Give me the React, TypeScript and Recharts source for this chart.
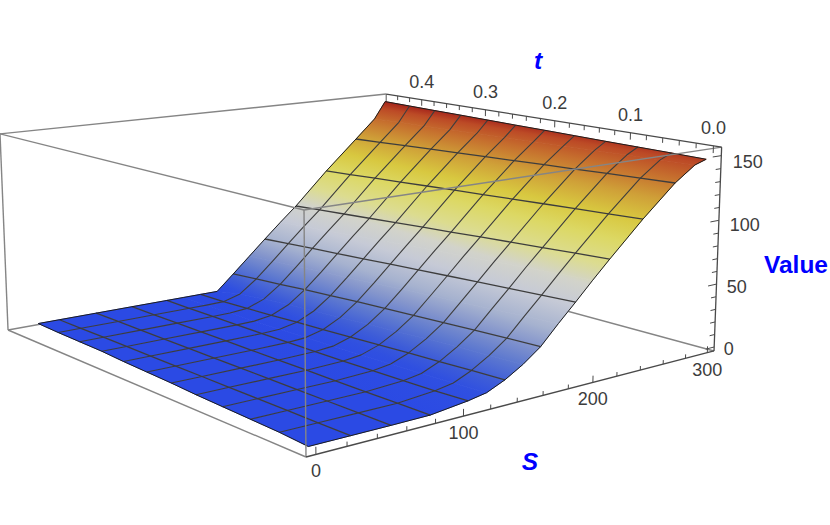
import { Scatter, ScatterChart, XAxis, YAxis } from 'recharts';

// surface samples: one list per S, one entry per t
const tValues = [0, 0.0409, 0.0818, 0.1227, 0.1636, 0.2045, 0.2455, 0.2864, 0.3273, 0.3682, 0.4091, 0.45];
const sValues = [0, 27.3, 54.5, 81.8, 109.1, 122.7, 136.4, 150, 163.6, 177.3, 190.9, 204.5, 218.2, 245.5, 272.7, 290, 300];
const meshS = [27.3, 54.5, 81.8, 109.1, 136.4, 163.6, 190.9, 218.2, 245.5, 272.7];
// the low S edge of the surface is not quite square in the picture
const lowEdgeS = [0, 2, 3, 4, 5, 6.5, 7.5, 8.5, 10, 10.5, 11, 12];

const atS0 = [0, 0, 0, 0, 0, 0, 0, 0, 0, 0, 0, 0];
const atS27 = [0, 0, 0, 0, 0, 0, 0, 0, 0, 0, 0, 0];
const atS55 = [0, 0, 0, 0, 0, 0, 0, 0, 0, 0, 0, 0];
const atS82 = [0.2, 0.1, 0, 0, 0, 0, 0, 0, 0, 0, 0, 0];
const atS109 = [3.5, 2.4, 1.7, 1.2, 0.8, 0.5, 0.3, 0.1, 0, 0, 0, 0];
const atS123 = [6, 4.8, 3.9, 3.2, 2.5, 1.8, 1.2, 0.7, 0.3, 0.1, 0, 0];
const atS136 = [12, 10.9, 9.7, 8.6, 7.3, 6.1, 4.8, 3.7, 2.4, 1.3, 0.3, 0];
const atS150 = [20, 19, 17.8, 16.5, 15, 13.4, 11.9, 10.2, 8.5, 6.6, 4.4, 0];
const atS164 = [30, 28.9, 27.6, 26.2, 24.9, 23.5, 22.2, 20.4, 18.8, 16.8, 15, 13.1];
const atS177 = [44, 42.6, 41, 39.4, 37.9, 36.2, 34.7, 33, 31.4, 29.7, 28.1, 26.5];
const atS191 = [57.2, 55.7, 54.2, 52.6, 51.1, 49.5, 48, 46.3, 44.7, 43.1, 41.4, 39.8];
const atS205 = [70.8, 69.2, 67.7, 66.1, 64.5, 62.8, 61.2, 59.6, 57.9, 56.2, 54.5, 52.8];
const atS218 = [84, 82.4, 80.7, 79.1, 77.5, 75.7, 74.1, 72.4, 70.6, 68.9, 67.1, 65.4];
const atS246 = [109.4, 108, 106.6, 105.2, 103.8, 102.3, 101, 99.5, 98, 96.5, 95, 93.5];
const atS273 = [132.6, 131.4, 130.3, 129.1, 128, 126.7, 125.6, 124.3, 123.1, 121.9, 120.6, 119.4];
const atS290 = [144, 143.3, 142.6, 141.9, 141.2, 140.4, 139.8, 139, 138.2, 137.5, 136.8, 136];
const atS300 = [147, 147.4, 147.7, 148, 148.4, 148.8, 149.1, 149.5, 149.9, 150.2, 150.6, 151];
const valueRows = [
  atS0, atS27, atS55, atS82, atS109, atS123, atS136, atS150, atS164,
  atS177, atS191, atS205, atS218, atS246, atS273, atS290, atS300,
];

const sTicks = [0, 20, 40, 60, 80, 100, 120, 140, 160, 180, 200, 220, 240, 260, 280, 300];
const tTicks = [0, 0.02, 0.04, 0.06, 0.08, 0.1, 0.12, 0.14, 0.16, 0.18, 0.2, 0.22, 0.24, 0.26, 0.28, 0.3, 0.32, 0.34, 0.36, 0.38, 0.4, 0.42, 0.44];
const valueTicks = [0, 10, 20, 30, 40, 50, 60, 70, 80, 90, 100, 110, 120, 130, 140, 150];
const sLabels = [0, 100, 200, 300];
const tLabels = [0, 0.1, 0.2, 0.3, 0.4];
const valueLabels = [0, 50, 100, 150];

// colour of the surface by height
const rampValues = [0, 5, 10, 20, 30, 40, 55, 68, 80, 95, 108, 122, 135, 145, 152];
const rampColors = [
  '#2b4ae4', '#3050e0', '#3d5cd8', '#5f7acf', '#8596cc', '#a6b2cf', '#c6cad6', '#d2d3ca',
  '#dcdc90', '#dcd864', '#d8c840', '#cfa038', '#c6702e', '#bc4a26', '#a01c18',
];

const WIDTH = 830;
const HEIGHT = 525;
const BLUE = '#0000ff';
const BOX = '#858585';
const AXIS = '#4a4a4a';
const MESH = '#3d3d3d';

type Pt = { x: number; y: number };

// camera of the box, u v h all in 0..1
function box(u: number, w: number, h: number): Pt {
  const d = 1 + 0.22 * u + 0.27 * w - 0.027 * h;
  return {
    x: (306 + 565.1 * u - 295.8 * w - 10.2 * h) / d,
    y: (457 - 28.8 * u - 37.9 * w - 252.7 * h) / d,
  };
}
const uOf = (s: number) => 0.02 + 0.0032 * s;
const wOf = (t: number) => 0.02 + (0.96 * t) / 0.45;
const hOf = (v: number) => 0.02 + 0.00626 * v;
const project = (s: number, t: number, v: number) => box(uOf(s), wOf(t), hOf(v));

// position of grid node: row i, column j
const node = (i: number, j: number) =>
  project(i === 0 ? lowEdgeS[j] : sValues[i], tValues[j], valueRows[i][j]);

function hexToRgb(hex: string) {
  return [1, 3, 5].map((i) => parseInt(hex.slice(i, i + 2), 16));
}

function rampColor(v: number): string {
  if (v <= rampValues[0]) return rampColors[0];
  for (let i = 1; i < rampValues.length; i++) {
    if (v <= rampValues[i]) {
      const f = (v - rampValues[i - 1]) / (rampValues[i] - rampValues[i - 1]);
      const a = hexToRgb(rampColors[i - 1]);
      const b = hexToRgb(rampColors[i]);
      const c = a.map((n, k) => Math.round(n + (b[k] - n) * f));
      return `rgb(${c[0]},${c[1]},${c[2]})`;
    }
  }
  return rampColors[rampColors.length - 1];
}

type Cell = { id: string; points: Pt[]; flat: string | null; grad: any };

// each mesh cell gets its own gradient along the steepest direction of the height
function buildCell(i: number, j: number): Cell {
  const corners = [
    [i, j],
    [i + 1, j],
    [i + 1, j + 1],
    [i, j + 1],
  ];
  const pts = corners.map(([a, b]) => node(a, b));
  const vals = corners.map(([a, b]) => valueRows[a][b]);
  const id = `cell-${i}-${j}`;
  const points = [...pts, pts[0]];
  const lo = Math.min(...vals);
  const hi = Math.max(...vals);
  if (hi - lo < 0.4) return { id, points, flat: rampColor((hi + lo) / 2), grad: null };

  const mx = pts.reduce((s, p) => s + p.x, 0) / 4;
  const my = pts.reduce((s, p) => s + p.y, 0) / 4;
  const mv = vals.reduce((s, v) => s + v, 0) / 4;
  let sxx = 0;
  let sxy = 0;
  let syy = 0;
  let sxv = 0;
  let syv = 0;
  pts.forEach((p, k) => {
    const dx = p.x - mx;
    const dy = p.y - my;
    const dv = vals[k] - mv;
    sxx += dx * dx;
    sxy += dx * dy;
    syy += dy * dy;
    sxv += dx * dv;
    syv += dy * dv;
  });
  const det = sxx * syy - sxy * sxy;
  const a = (sxv * syy - syv * sxy) / det;
  const b = (syv * sxx - sxv * sxy) / det;
  const g2 = a * a + b * b;
  const from = Math.max(0, lo - 2);
  const to = hi + 2;
  const at = (v: number) => ({ x: mx + (a * (v - mv)) / g2, y: my + (b * (v - mv)) / g2 });
  const stops = [from, ...rampValues.filter((v) => v > from && v < to), to];
  return {
    id,
    points,
    flat: null,
    grad: {
      start: at(from),
      end: at(to),
      stops: stops.map((v) => ({ offset: (v - from) / (to - from), color: rampColor(v) })),
    },
  };
}

const cells: Cell[] = [];
for (let j = tValues.length - 2; j >= 0; j--) {
  for (let i = sValues.length - 2; i >= 0; i--) {
    cells.push(buildCell(i, j));
  }
}

const lastS = sValues.length - 1;
const lastT = tValues.length - 1;
const meshLinesT = tValues.slice(1, -1).map((_, j) => sValues.map((_s, i) => node(i, j + 1)));
const meshLinesS = meshS.map((s) => tValues.map((_, j) => node(sValues.indexOf(s), j)));
const outline = [
  ...sValues.map((_, i) => node(i, 0)),
  ...tValues.map((_, j) => node(lastS, j)),
  ...sValues.map((_, i) => node(i, lastT)).reverse(),
  ...tValues.map((_, j) => node(0, j)).reverse(),
];

const boxLine = (a: number[], b: number[]) => [box(a[0], a[1], a[2]), box(b[0], b[1], b[2])];
const backEdges = [
  boxLine([1, 1, 0], [0, 1, 0]),
  boxLine([1, 1, 0], [1, 0, 0]),
  boxLine([1, 1, 0], [1, 1, 1]),
];
const frontEdges = [
  boxLine([0, 1, 0], [0, 1, 1]),
  boxLine([0, 1, 1], [1, 1, 1]),
  boxLine([0, 1, 1], [0, 0, 1]),
  boxLine([0, 0, 1], [0, 0, 0]),
  boxLine([0, 0, 1], [1, 0, 1]),
  boxLine([0, 1, 0], [0, 0, 0]),
];
const axisEdges = [
  boxLine([0, 0, 0], [1, 0, 0]),
  boxLine([1, 1, 1], [1, 0, 1]),
  boxLine([1, 0, 0], [1, 0, 1]),
];

const tickLines = [
  ...sTicks.map((s) => boxLine([uOf(s), 0, 0], [uOf(s), 0, s % 100 === 0 ? 0.032 : 0.02])),
  ...tTicks.map((t) => {
    const major = Math.round(t * 100) % 10 === 0;
    return boxLine([1, wOf(t), 1], [1, wOf(t), major ? 0.965 : 0.975]);
  }),
  ...valueTicks.map((v) => boxLine([1, 0, hOf(v)], [v % 50 === 0 ? 0.975 : 0.985, 0, hOf(v)])),
];

type Label = Pt & { label: string };

const sLabelData: Label[] = sLabels.map((s) => {
  const p = box(uOf(s), 0, 0);
  return { x: p.x, y: p.y + 17, label: String(s) };
});
const tLabelData: Label[] = tLabels.map((t) => {
  const p = box(1, wOf(t), 1);
  return { x: p.x, y: p.y - 18, label: t.toFixed(1) };
});
const valueLabelData: Label[] = valueLabels.map((v) => {
  const p = box(1, 0, hOf(v));
  return { x: p.x + 9.5 + v * 0.013, y: p.y + 2 + v * 0.027, label: String(v) };
});

const noMark = () => <g />;

function textMark(anchor: 'middle' | 'start') {
  return (props: any) => (
    <text
      x={props.cx}
      y={props.cy}
      textAnchor={anchor}
      dominantBaseline="central"
      fontFamily="Liberation Sans"
      fontSize={18}
      fill="#3c3c3c"
    >
      {props.payload.label}
    </text>
  );
}

function titleMark(style: 'italic' | 'normal') {
  return (props: any) => (
    <text
      x={props.cx}
      y={props.cy}
      textAnchor="middle"
      dominantBaseline="central"
      fontFamily="Liberation Sans"
      fontSize={24.5}
      fontWeight="bold"
      fontStyle={style}
      fill={BLUE}
    >
      {props.payload.label}
    </text>
  );
}

function polyline(key: string, points: Pt[], stroke: string, strokeWidth: number) {
  return (
    <Scatter
      key={key}
      data={points}
      line={{ stroke, strokeWidth, fill: 'none', strokeLinejoin: 'round' }}
      shape={noMark}
      isAnimationActive={false}
    />
  );
}

export default function App() {
  return (
    <div style={{ position: 'absolute', left: 0, top: 0, width: WIDTH, height: HEIGHT }}>
      <ScatterChart width={WIDTH} height={HEIGHT} margin={{ top: 0, right: 0, bottom: 0, left: 0 }}>
        <defs>
          {cells
            .filter((c) => c.grad)
            .map((c) => (
              <linearGradient
                key={c.id}
                id={c.id}
                gradientUnits="userSpaceOnUse"
                x1={c.grad.start.x}
                y1={c.grad.start.y}
                x2={c.grad.end.x}
                y2={c.grad.end.y}
              >
                {c.grad.stops.map((s: any, k: number) => (
                  <stop key={k} offset={s.offset} stopColor={s.color} />
                ))}
              </linearGradient>
            ))}
        </defs>
        <XAxis type="number" dataKey="x" domain={[0, WIDTH]} hide />
        <YAxis type="number" dataKey="y" domain={[0, HEIGHT]} reversed hide />

        {backEdges.map((e, i) => polyline(`back-${i}`, e, BOX, 1.4))}

        {cells.map((c) => {
          const paint = c.flat ?? `url(#${c.id})`;
          return (
            <Scatter
              key={c.id}
              data={c.points}
              line={{ fill: paint, stroke: paint, strokeWidth: 0.8 }}
              shape={noMark}
              isAnimationActive={false}
            />
          );
        })}

        {meshLinesT.map((l, i) => polyline(`mesh-t-${i}`, l, MESH, 1.1))}
        {meshLinesS.map((l, i) => polyline(`mesh-s-${i}`, l, MESH, 1.3))}
        {polyline('outline', outline, '#1c1c1c', 1)}

        {frontEdges.map((e, i) => polyline(`front-${i}`, e, BOX, 1.4))}
        {tickLines.map((e, i) => polyline(`tick-${i}`, e, AXIS, 1))}
        {axisEdges.map((e, i) => polyline(`axis-${i}`, e, AXIS, 1.3))}

        <Scatter data={sLabelData} shape={textMark('middle')} isAnimationActive={false} />
        <Scatter data={tLabelData} shape={textMark('middle')} isAnimationActive={false} />
        <Scatter data={valueLabelData} shape={textMark('start')} isAnimationActive={false} />
        <Scatter data={[{ x: 538, y: 60, label: 't' }]} shape={titleMark('italic')} isAnimationActive={false} />
        <Scatter data={[{ x: 530, y: 461, label: 'S' }]} shape={titleMark('italic')} isAnimationActive={false} />
        <Scatter data={[{ x: 796, y: 264, label: 'Value' }]} shape={titleMark('normal')} isAnimationActive={false} />
      </ScatterChart>
    </div>
  );
}
